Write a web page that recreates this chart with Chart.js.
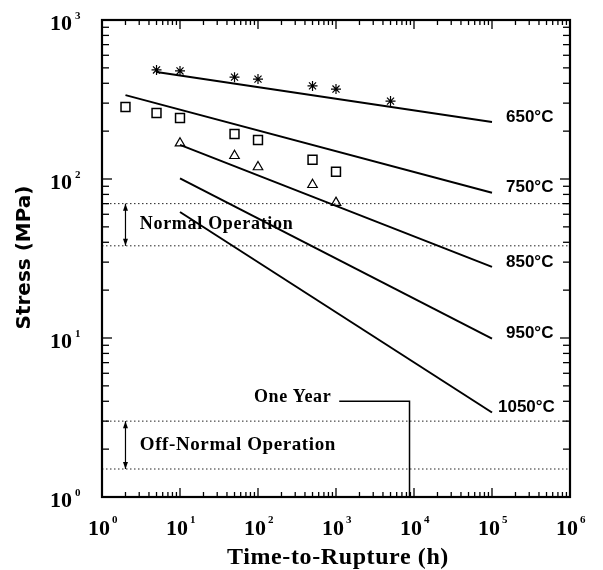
<!DOCTYPE html>
<html>
<head>
<meta charset="utf-8">
<script src="https://cdn.jsdelivr.net/npm/chart.js@4.4.0/dist/chart.umd.min.js"></script>
<style>
  body { margin: 0; background: #fff; }
</style>
</head>
<body>
<canvas id="myChart" width="603" height="570"></canvas>
<script>
// fitted rupture lines, one per temperature
const temps = ["650°C", "750°C", "850°C", "950°C", "1050°C"];
const lineStartTime = [5, 2, 10, 10, 10];
const lineEndTime = [1e5, 1e5, 1e5, 1e5, 1e5];
const lineStartStress = [471, 337, 164, 101, 62];
const lineEndStress = [228, 82, 28, 9.9, 3.4];

// measured points
const t650 = [5, 10, 50, 100, 500, 1000, 5000];
const s650 = [485, 478, 437, 425, 385, 368, 309];
const t750 = [2, 5, 10, 50, 100, 500, 1000];
const s750 = [284, 260, 242, 192, 176, 132, 111];
const t850 = [10, 50, 100, 500, 1000];
const s850 = [168, 140, 119, 92, 71];

// operating bands
const normalBand = [70, 38];
const offNormalBand = [3, 1.5];
const bandLabels = ["Normal Operation", "Off-Normal Operation"];
const oneYearHours = 8760;
const oneYearStress = 4;
const oneYearLineFrom = 1100;

const xExponents = [0, 1, 2, 3, 4, 5, 6];
const yExponents = [0, 1, 2, 3];
const xTitle = "Time-to-Rupture (h)";
const yTitle = "Stress (MPa)";

const pts = (xs, ys) => xs.map((x, i) => ({ x: x, y: ys[i] }));

var datasets = [];
temps.forEach((t, i) => {
  datasets.push({
    label: t,
    data: [{ x: lineStartTime[i], y: lineStartStress[i] }, { x: lineEndTime[i], y: lineEndStress[i] }],
    showLine: true,
    pointRadius: 0,
    borderColor: "#000",
    borderWidth: 2,
  });
});
datasets.push({
  label: "650 data", data: pts(t650, s650), pointStyle: "star", pointRadius: 5,
  borderColor: "#000", borderWidth: 1.2, backgroundColor: "transparent",
});
datasets.push({
  label: "750 data", data: pts(t750, s750), pointStyle: "rect", pointRadius: 6.3,
  borderColor: "#000", borderWidth: 1.5, backgroundColor: "transparent",
});
datasets.push({
  label: "850 data", data: pts(t850, s850), pointStyle: "triangle", pointRadius: 5.5,
  borderColor: "#000", borderWidth: 1.2, backgroundColor: "transparent",
});
normalBand.concat(offNormalBand).forEach((v) => {
  datasets.push({
    label: "band", data: [{ x: 1, y: v }, { x: 1e6, y: v }], showLine: true, pointRadius: 0,
    borderColor: "#222", borderWidth: 1, borderDash: [1.5, 2.5],
  });
});
datasets.push({
  label: "one year",
  data: [{ x: oneYearLineFrom, y: oneYearStress }, { x: oneYearHours, y: oneYearStress }, { x: oneYearHours, y: 1 }],
  showLine: true, pointRadius: 0, borderColor: "#000", borderWidth: 1.5,
});

function seg(ctx, x1, y1, x2, y2) {
  ctx.beginPath();
  ctx.moveTo(x1, y1);
  ctx.lineTo(x2, y2);
  ctx.stroke();
}

function arrow(ctx, x, yTop, yBot) {
  seg(ctx, x, yTop, x, yBot);
  ctx.beginPath();
  ctx.moveTo(x, yTop); ctx.lineTo(x - 2.5, yTop + 7); ctx.lineTo(x + 2.5, yTop + 7); ctx.closePath(); ctx.fill();
  ctx.beginPath();
  ctx.moveTo(x, yBot); ctx.lineTo(x - 2.5, yBot - 7); ctx.lineTo(x + 2.5, yBot - 7); ctx.closePath(); ctx.fill();
}

const decor = {
  id: "decor",
  afterDraw(chart) {
    const { ctx, chartArea: a } = chart;
    const x = chart.scales.x, y = chart.scales.y;
    ctx.save();
    ctx.strokeStyle = "#000";
    ctx.fillStyle = "#000";

    // inward ticks on all four sides
    ctx.lineWidth = 1.3;
    for (let e = 0; e < 6; e++) {
      for (let m = 1; m < 10; m++) {
        const px = x.getPixelForValue(m * Math.pow(10, e));
        const len = m === 1 ? 9 : 5;
        seg(ctx, px, a.bottom, px, a.bottom - len);
        seg(ctx, px, a.top, px, a.top + len);
      }
    }
    for (let e = 0; e < 3; e++) {
      for (let m = 1; m < 10; m++) {
        const py = y.getPixelForValue(m * Math.pow(10, e));
        const len = m === 1 ? 10 : 7;
        seg(ctx, a.left, py, a.left + len, py);
        seg(ctx, a.right, py, a.right - len, py);
      }
    }
    ctx.lineWidth = 2.2;
    ctx.strokeRect(a.left, a.top, a.right - a.left, a.bottom - a.top);

    // tick labels with superscript exponents
    ctx.textBaseline = "alphabetic";
    xExponents.forEach((e) => {
      const px = x.getPixelForValue(Math.pow(10, e));
      ctx.font = 'bold 22px "Liberation Serif"';
      ctx.textAlign = "right";
      ctx.fillText("10", px + 8, a.bottom + 38);
      ctx.font = 'bold 11px "Liberation Serif"';
      ctx.textAlign = "left";
      ctx.fillText(String(e), px + 10, a.bottom + 26);
    });
    yExponents.forEach((e) => {
      const py = y.getPixelForValue(Math.pow(10, e));
      ctx.font = 'bold 22px "Liberation Serif"';
      ctx.textAlign = "right";
      ctx.fillText("10", a.left - 30, py + 10);
      ctx.font = 'bold 11px "Liberation Serif"';
      ctx.textAlign = "left";
      ctx.fillText(String(e), a.left - 27, py - 1);
    });

    // axis titles
    ctx.font = 'bold 24px "Liberation Serif"';
    ctx.letterSpacing = "0.6px";
    ctx.textAlign = "center";
    ctx.fillText(xTitle, (a.left + a.right) / 2 + 2, a.bottom + 67);
    ctx.letterSpacing = "0px";
    ctx.save();
    ctx.translate(30, (a.top + a.bottom) / 2 - 1);
    ctx.rotate(-Math.PI / 2);
    ctx.font = 'bold 20px "DejaVu Sans"';
    ctx.fillText(yTitle, 0, 0);
    ctx.restore();

    // temperature labels at the line ends
    ctx.font = 'bold 17px "Liberation Sans"';
    ctx.textAlign = "left";
    ctx.textBaseline = "middle";
    temps.forEach((t, i) => {
      const px = x.getPixelForValue(lineEndTime[i]);
      const py = y.getPixelForValue(lineEndStress[i]);
      ctx.fillText(t, px + (i === 4 ? 6 : 14), py - 5);
    });

    // operating bands
    ctx.lineWidth = 1.2;
    const ax = x.getPixelForValue(2);
    arrow(ctx, ax, y.getPixelForValue(normalBand[0]), y.getPixelForValue(normalBand[1]));
    arrow(ctx, ax, y.getPixelForValue(offNormalBand[0]), y.getPixelForValue(offNormalBand[1]));
    ctx.font = 'bold 18px "Liberation Serif"';
    ctx.letterSpacing = "0.7px";
    const tx = x.getPixelForValue(3.05);
    const nMid = (y.getPixelForValue(normalBand[0]) + y.getPixelForValue(normalBand[1])) / 2;
    ctx.fillText(bandLabels[0], tx, nMid);
    const oMid = (y.getPixelForValue(offNormalBand[0]) + y.getPixelForValue(offNormalBand[1])) / 2;
    ctx.font = 'bold 19px "Liberation Serif"';
    ctx.letterSpacing = "0.6px";
    ctx.fillText(bandLabels[1], tx, oMid);

    ctx.font = 'bold 18px "Liberation Serif"';
    ctx.letterSpacing = "0.6px";
    ctx.textAlign = "right";
    ctx.fillText("One Year", x.getPixelForValue(oneYearLineFrom) - 8, y.getPixelForValue(oneYearStress) - 4);
    ctx.restore();
  },
};

var config = {
  type: "scatter",
  data: { datasets: datasets },
  options: {
    responsive: false,
    animation: false,
    devicePixelRatio: 1,
    layout: { padding: { left: 102, top: 20, right: 33, bottom: 73 } },
    plugins: { legend: { display: false }, tooltip: { enabled: false } },
    scales: {
      x: { type: "logarithmic", min: 1, max: 1e6, display: false },
      y: { type: "logarithmic", min: 1, max: 1000, display: false },
    },
  },
  plugins: [decor],
};

const ctx = document.getElementById("myChart").getContext("2d");
const myChart = new Chart(ctx, config);
</script>
</body>
</html>
